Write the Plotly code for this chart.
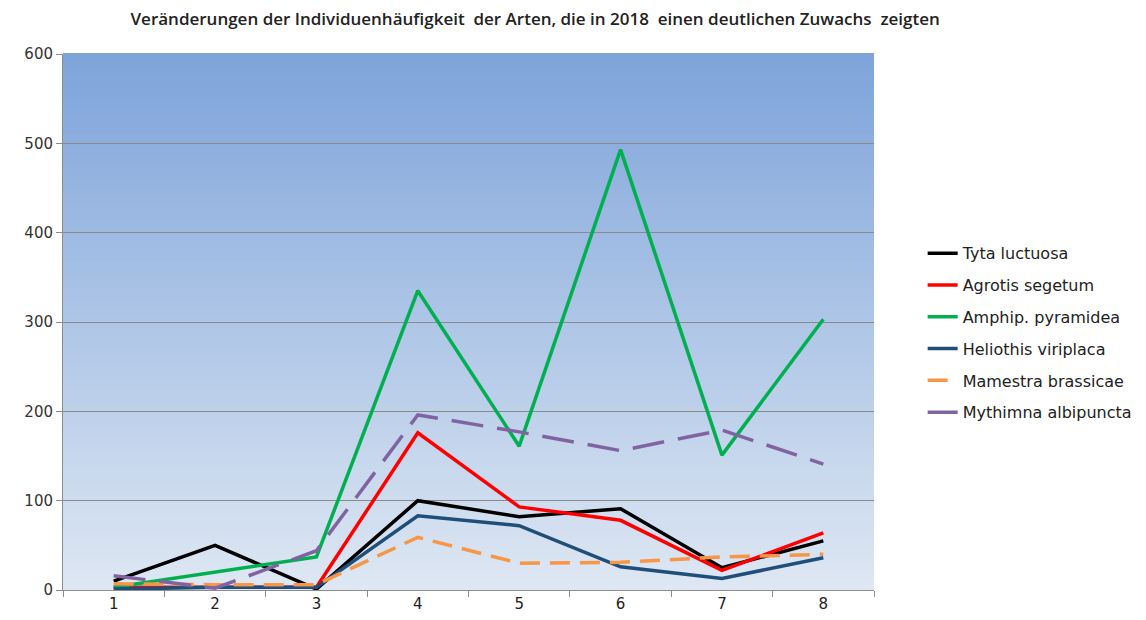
import plotly.graph_objects as go

categories = ["1", "2", "3", "4", "5", "6", "7", "8"]

tyta_luctuosa = [10, 50, 1, 100, 82, 91, 25, 55]
agrotis_segetum = [3, 3, 3, 176, 93, 78, 22, 64]
amphip_pyramidea = [3, 20, 37, 335, 161, 493, 151, 303]
heliothis_viriplaca = [1, 3, 3, 83, 72, 26, 13, 36]
mamestra_brassicae = [7, 6, 6, 59, 30, 31, 37, 40]
mythimna_albipuncta = [16, 2, 44, 196, 177, 156, 179, 141]

series = [
    ("Tyta luctuosa", tyta_luctuosa, "#000000", "solid"),
    ("Agrotis segetum", agrotis_segetum, "#ff0000", "solid"),
    ("Amphip. pyramidea", amphip_pyramidea, "#00b050", "solid"),
    ("Heliothis viriplaca", heliothis_viriplaca, "#1f4e79", "solid"),
    ("Mamestra brassicae", mamestra_brassicae, "#f79646", "20px,10px"),
    ("Mythimna albipuncta", mythimna_albipuncta, "#8064a2", "32px,14px"),
]

fig = go.Figure()
for i, (name, vals, color, dash) in enumerate(series):
    fig.add_trace(go.Scatter(
        x=categories, y=vals, name=name, mode="lines",
        line=dict(color=color, width=3.5, dash=dash),
        legendgroup=f"g{i}",
    ))

# vertical gradient background for plot area
top = (126, 164, 218)
bot = (222, 231, 243)
n = 80
shapes = []
for k in range(n):
    t = k / (n - 1)
    c = tuple(int(round(bot[j] + (top[j] - bot[j]) * t)) for j in range(3))
    shapes.append(dict(
        type="rect", xref="paper", yref="paper",
        x0=0, x1=1, y0=k / n, y1=(k + 1) / n + 0.002,
        fillcolor=f"rgb{c}", line=dict(width=0), layer="below",
    ))

fig.update_layout(
    width=1146, height=620,
    margin=dict(l=55, r=280, t=46, b=38),
    paper_bgcolor="white",
    plot_bgcolor="rgba(0,0,0,0)",
    shapes=shapes,
    title=dict(
        text="Veränderungen der Individuenhäufigkeit  der Arten, die in 2018  einen deutlichen Zuwachs  zeigten",
        x=0.46, xanchor="center", yref="container", y=0.982, yanchor="middle",
        font=dict(family="Open Sans, sans-serif", size=17, weight=600, color="#222222"),
    ),
    legend=dict(
        x=1.06, xanchor="left", y=0.66, yanchor="top",
        font=dict(family="DejaVu Sans, sans-serif", size=16, color="#222222"),
        tracegroupgap=8, traceorder="grouped",
        bgcolor="rgba(0,0,0,0)",
    ),
    font=dict(family="DejaVu Sans, sans-serif", size=14, color="#333333"),
    xaxis=dict(
        type="category", range=[-0.5, 7.5], showgrid=False,
        showline=True, linecolor="#8c8c8c", linewidth=1,
        ticks="outside", tickson="boundaries", ticklen=6, tickcolor="#8c8c8c",
        tickfont=dict(size=15, color="#222222"),
    ),
    yaxis=dict(
        range=[0, 600], dtick=100, showgrid=True, gridcolor="#8a8a8a", gridwidth=1,
        showline=True, linecolor="#8c8c8c", linewidth=1,
        ticks="outside", ticklen=6, tickcolor="#8c8c8c",
        zeroline=False, tickfont=dict(size=15, color="#333333"),
    ),
)

fig.write_html("out.html")
